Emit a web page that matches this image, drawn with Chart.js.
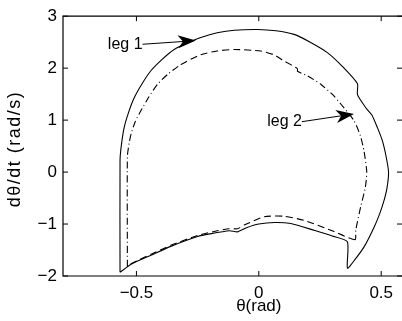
<!DOCTYPE html>
<html>
<head>
<meta charset="utf-8">
<script src="https://cdn.jsdelivr.net/npm/chart.js@4.4.1/dist/chart.umd.min.js"></script>
<style>
  html, body { margin: 0; padding: 0; background: #fff; overflow: hidden; }
  #wrap { width: 402px; height: 321px; }
</style>
</head>
<body>
<div id="wrap"><canvas id="phaseChart"></canvas></div>
<script>
// Ciclo de la pierna 1 (línea continua)
var legOneTheta = [-0.567, -0.567, -0.562, -0.55, -0.532, -0.509, -0.477, -0.441, -0.395, -0.346,
  -0.29, -0.237, -0.17, -0.1, -0.005, 0.07, 0.144, 0.21, 0.28, 0.34,
  0.403, 0.403, 0.44, 0.462, 0.485, 0.505, 0.52, 0.53, 0.524, 0.512,
  0.494, 0.471, 0.43, 0.395, 0.362, 0.362, 0.3, 0.226, 0.131, 0.065,
  0.0, -0.05, -0.087, -0.12, -0.2, -0.25, -0.36, -0.44, -0.52, -0.567];
var legOneRate = [-1.93, 0.22, 0.5, 0.86, 1.15, 1.43, 1.7, 1.95, 2.17, 2.36,
  2.49, 2.59, 2.68, 2.73, 2.745, 2.72, 2.65, 2.5, 2.3, 2.04,
  1.7, 1.49, 1.22, 1.1, 0.85, 0.6, 0.3, 0.0, -0.3, -0.54,
  -0.8, -1.06, -1.44, -1.67, -1.85, -1.34, -1.23, -1.12, -0.99, -0.97,
  -1.0, -1.07, -1.15, -1.13, -1.19, -1.24, -1.43, -1.6, -1.77, -1.93];

// Ciclo de la pierna 2 (discontinua / punto-raya)
var legTwoTheta = [-0.537, -0.537, -0.53, -0.522, -0.505, -0.482, -0.45, -0.414, -0.37, -0.318,
  -0.237, -0.17, -0.1, 0.008, 0.06, 0.103, 0.158, 0.158, 0.2, 0.253,
  0.3, 0.335, 0.389, 0.415, 0.43, 0.441, 0.435, 0.416, 0.396, 0.393,
  0.294, 0.185, 0.103, 0.022, -0.06, -0.087, -0.12, -0.17, -0.25, -0.36,
  -0.44, -0.52, -0.537];
var legTwoRate = [-1.82, 0.3, 0.55, 0.73, 0.97, 1.18, 1.44, 1.69, 1.89, 2.07,
  2.26, 2.33, 2.36, 2.33, 2.26, 2.14, 1.99, 1.94, 1.85, 1.69,
  1.5, 1.31, 0.99, 0.7, 0.4, 0.0, -0.3, -0.67, -1.12, -1.3,
  -1.12, -0.93, -0.85, -0.86, -1.02, -1.09, -1.09, -1.13, -1.22, -1.41,
  -1.58, -1.76, -1.82];

// Marcas de los ejes
var xTickValues = [-0.5, 0, 0.5];
var yTickValues = [-2, -1, 0, 1, 2, 3];

var FONT = "'Liberation Sans', Arial, Helvetica, sans-serif";

function toPoints(xs, ys) {
  return xs.map(function (x, i) { return { x: x, y: ys[i] }; });
}

function minusSign(v) {
  return String(v).replace('-', '\u2212');
}

var DASH = [7, 4];
var DASH_DOT = [7, 3, 1, 3];

// Dibuja una flecha con punta rellena
function drawArrow(c, x0, y0, x1, y1) {
  var ang = Math.atan2(y1 - y0, x1 - x0);
  var len = 18, half = 6.5, notch = 5;
  var bx = x1 - len * Math.cos(ang), by = y1 - len * Math.sin(ang);
  var nx = x1 - (len - notch) * Math.cos(ang), ny = y1 - (len - notch) * Math.sin(ang);
  c.beginPath();
  c.moveTo(x0, y0);
  c.lineTo(nx, ny);
  c.stroke();
  c.beginPath();
  c.moveTo(x1, y1);
  c.lineTo(bx - half * Math.sin(ang), by + half * Math.cos(ang));
  c.lineTo(nx, ny);
  c.lineTo(bx + half * Math.sin(ang), by - half * Math.cos(ang));
  c.closePath();
  c.fill();
}

var framePlugin = {
  id: 'frame',
  afterDraw: function (chart) {
    var c = chart.ctx, a = chart.chartArea;
    var xs = chart.scales.x, ys = chart.scales.y;
    c.save();
    c.strokeStyle = '#000';
    c.fillStyle = '#000';
    c.lineWidth = 1.2;
    // marco
    c.beginPath();
    c.moveTo(a.right, a.top);
    c.lineTo(a.left, a.top);
    c.lineTo(a.left, a.bottom);
    c.lineTo(a.right, a.bottom);
    c.stroke();
    // marcas hacia dentro
    c.lineWidth = 1;
    var tl = 5;
    xTickValues.forEach(function (v) {
      var px = xs.getPixelForValue(v);
      c.beginPath();
      c.moveTo(px, a.bottom); c.lineTo(px, a.bottom - tl);
      c.moveTo(px, a.top); c.lineTo(px, a.top + tl);
      c.stroke();
    });
    yTickValues.forEach(function (v) {
      var py = ys.getPixelForValue(v);
      c.beginPath();
      c.moveTo(a.left, py); c.lineTo(a.left + tl, py);
      c.moveTo(a.right, py); c.lineTo(a.right - tl, py);
      c.stroke();
    });
    // títulos de los ejes
    c.textAlign = 'center';
    c.textBaseline = 'middle';
    c.font = '17px ' + FONT;
    c.fillText('θ(rad)', xs.getPixelForValue(0), 306);
    c.save();
    c.translate(15, 149);
    c.rotate(-Math.PI / 2);
    c.font = '18px ' + FONT;
    c.letterSpacing = '1.5px';
    c.fillText('dθ/dt (rad/s)', 0, 0);
    c.restore();
    // anotaciones
    c.font = '16px ' + FONT;
    c.textAlign = 'right';
    c.textBaseline = 'middle';
    var notes = [
      { text: 'leg 1', tail: [-0.475, 2.46], tip: [-0.257, 2.53] },
      { text: 'leg 2', tail: [0.176, 0.97], tip: [0.389, 1.12] }
    ];
    notes.forEach(function (n) {
      var tx = xs.getPixelForValue(n.tail[0]), ty = ys.getPixelForValue(n.tail[1]);
      var hx = xs.getPixelForValue(n.tip[0]), hy = ys.getPixelForValue(n.tip[1]);
      c.fillText(n.text, tx, ty);
      c.lineWidth = 1;
      drawArrow(c, tx, ty, hx, hy);
    });
    c.restore();
  }
};

var ctx = document.getElementById('phaseChart').getContext('2d');

var phaseChart = new Chart(ctx, {
  type: 'scatter',
  data: {
    datasets: [{
      label: 'leg 1',
      data: toPoints(legOneTheta, legOneRate),
      showLine: true,
      borderColor: '#000',
      borderWidth: 1.1,
      pointRadius: 0,
      tension: 0.2
    }, {
      label: 'leg 2',
      data: toPoints(legTwoTheta, legTwoRate),
      showLine: true,
      borderColor: '#000',
      borderWidth: 1.1,
      pointRadius: 0,
      tension: 0.2,
      segment: {
        borderDash: function (s) {
          var i = s.p0DataIndex;
          return (i < 9 || (i >= 16 && i < 29)) ? DASH_DOT : DASH;
        }
      }
    }]
  },
  options: {
    responsive: true,
    maintainAspectRatio: false,
    animation: false,
    layout: { padding: { top: 15, right: 0, left: 0, bottom: 0 } },
    plugins: {
      legend: { display: false },
      tooltip: { enabled: false }
    },
    scales: {
      x: {
        type: 'linear',
        min: -0.8,
        max: 0.585,
        afterFit: function (s) { s.height = 45; },
        afterBuildTicks: function (s) {
          s.ticks = xTickValues.map(function (v) { return { value: v }; });
        },
        grid: { display: false, drawTicks: false },
        border: { display: false },
        ticks: {
          padding: 7,
          color: '#000',
          font: { family: FONT, size: 17 },
          maxRotation: 0,
          callback: function (v) { return minusSign(v); }
        },
        title: { display: false }
      },
      y: {
        type: 'linear',
        min: -2,
        max: 3,
        afterFit: function (s) { s.width = 63; },
        afterBuildTicks: function (s) {
          s.ticks = yTickValues.map(function (v) { return { value: v }; });
        },
        grid: { display: false, drawTicks: false },
        border: { display: false },
        ticks: {
          padding: 6,
          color: '#000',
          font: { family: FONT, size: 17 },
          callback: function (v) { return minusSign(v); }
        },
        title: { display: false }
      }
    }
  },
  plugins: [framePlugin]
});
</script>
</body>
</html>
